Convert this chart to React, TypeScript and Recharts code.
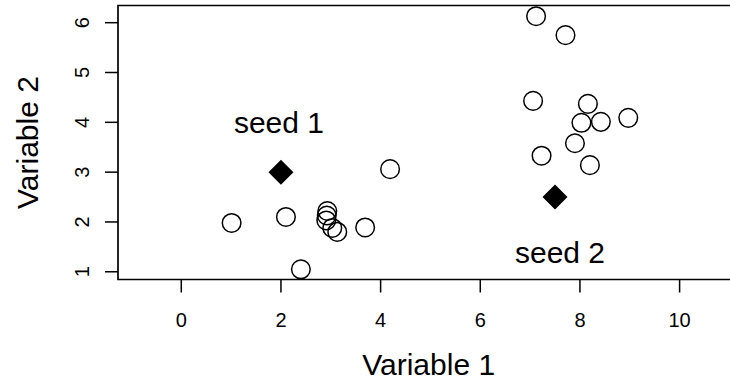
import { ScatterChart, Scatter, XAxis, YAxis, ReferenceArea } from "recharts"

// observations
const var1 = [1.01, 2.1, 2.4, 2.93, 2.92, 2.91, 3.03, 3.13, 3.69, 4.19, 7.12, 7.71, 7.06, 8.16, 8.03, 8.42, 8.97, 7.9, 7.23, 8.2]
const var2 = [1.98, 2.1, 1.05, 2.22, 2.13, 2.03, 1.88, 1.8, 1.89, 3.06, 6.13, 5.75, 4.43, 4.37, 3.99, 4.01, 4.09, 3.58, 3.33, 3.14]

// seeds and their labels
const seedX = [2, 7.5]
const seedY = [3, 2.5]
const seedNames = ["seed 1", "seed 2"]
const labelX = [1.96, 7.6]
const labelY = [4.0, 1.4]

const xTicks = [0, 2, 4, 6, 8, 10]
const yTicks = [1, 2, 3, 4, 5, 6]
const xDomain: [number, number] = [-1.27, 11.2]
const yDomain: [number, number] = [0.845, 6.345]

const FONT = '"Liberation Sans", Arial, Helvetica, sans-serif'

const points = var1.map((x, i) => ({ x, y: var2[i] }))
const seeds = seedX.map((x, i) => ({ x, y: seedY[i] }))
const labels = labelX.map((x, i) => ({ x, y: labelY[i], name: seedNames[i] }))

const OpenCircle = (p: any) => (
    <circle cx={p.cx} cy={p.cy} r={9.3} fill="none" stroke="#000" strokeWidth={1.5} />
)

const Diamond = (p: any) => {
    const s = 12.5
    return (
        <polygon
            points={`${p.cx},${p.cy - s} ${p.cx + s},${p.cy} ${p.cx},${p.cy + s} ${p.cx - s},${p.cy}`}
            fill="#000"
        />
    )
}

const SeedLabel = (p: any) => (
    <text x={p.cx} y={p.cy} dy="0.36em" textAnchor="middle" fontSize={30} fill="#000" fontFamily={FONT}>
        {p.payload.name}
    </text>
)

const XTick = (p: any) => (
    <text x={p.x} y={p.y} dy="0.71em" textAnchor="middle" fontSize={20} fill="#000" fontFamily={FONT}>
        {p.payload.value}
    </text>
)

const YTick = (p: any) => (
    <text
        transform={`translate(${p.x},${p.y}) rotate(-90)`}
        textAnchor="middle"
        fontSize={20}
        fill="#000"
        fontFamily={FONT}
    >
        {p.payload.value}
    </text>
)

const YTitle = (p: any) => {
    const vb = p.viewBox || { x: 0, y: 0, height: 0 }
    return (
        <text
            transform={`translate(${vb.x + 38},${vb.y + vb.height / 2}) rotate(-90)`}
            textAnchor="middle"
            fontSize={30}
            fill="#000"
            fontFamily={FONT}
        >
            Variable 2
        </text>
    )
}

export default function App() {
    return (
        <div
            style={{
                position: "absolute",
                left: 0,
                top: 0,
                width: 730,
                height: 387,
                overflow: "hidden",
                background: "#fff",
                fontFamily: FONT,
            }}
        >
            <ScatterChart width={745} height={387} margin={{ top: 5.5, right: 5.6, bottom: 0, left: 0 }}>
                <XAxis
                    type="number"
                    dataKey="x"
                    domain={xDomain}
                    ticks={xTicks}
                    allowDataOverflow
                    height={107.5}
                    axisLine={false}
                    tickLine={{ stroke: "#000", strokeWidth: 1.5 }}
                    tickSize={13}
                    tickMargin={20}
                    tick={<XTick />}
                    interval={0}
                    label={{ value: "Variable 1", position: "insideBottom", offset: 12, fontSize: 30, fill: "#000" }}
                />
                <YAxis
                    type="number"
                    dataKey="y"
                    domain={yDomain}
                    ticks={yTicks}
                    allowDataOverflow
                    width={118}
                    axisLine={false}
                    tickLine={{ stroke: "#000", strokeWidth: 1.5 }}
                    tickSize={13}
                    tickMargin={16}
                    tick={<YTick />}
                    interval={0}
                    label={{ content: (props: any) => <YTitle {...props} /> }}
                />
                <ReferenceArea
                    x1={xDomain[0]}
                    x2={xDomain[1]}
                    y1={yDomain[0]}
                    y2={yDomain[1]}
                    fill="none"
                    fillOpacity={0}
                    stroke="#000"
                    strokeWidth={1.7}
                    ifOverflow="visible"
                />
                <Scatter data={points} shape={<OpenCircle />} isAnimationActive={false} />
                <Scatter data={seeds} shape={<Diamond />} isAnimationActive={false} />
                <Scatter data={labels} shape={<SeedLabel />} isAnimationActive={false} />
            </ScatterChart>
        </div>
    )
}
